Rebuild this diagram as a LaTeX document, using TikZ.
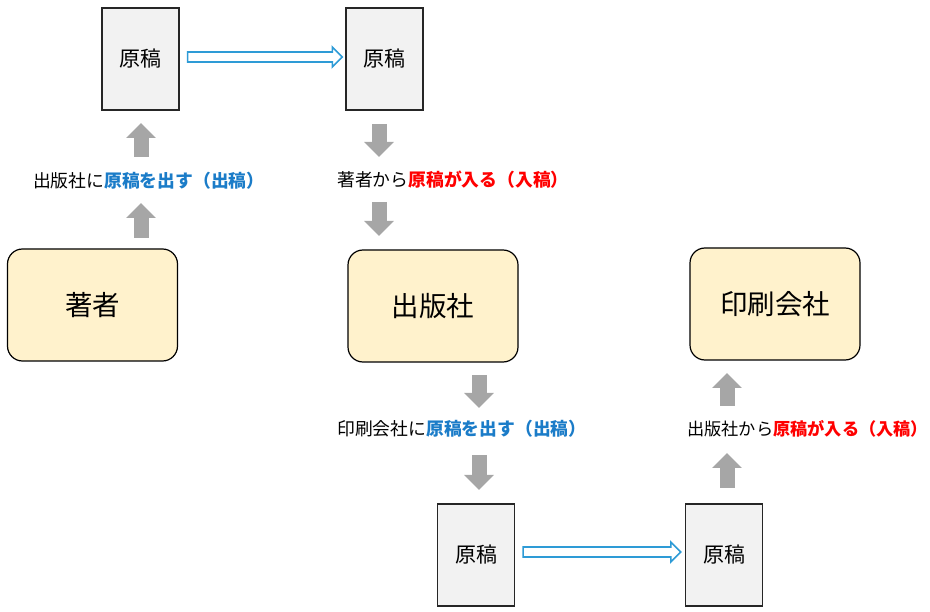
\documentclass[tikz,border=0pt]{standalone}
\usepackage{fontspec}
\setmainfont{Noto Sans CJK JP}
\usetikzlibrary{arrows.meta,calc}
\definecolor{docfill}{HTML}{F2F2F2}
\definecolor{boxfill}{HTML}{FFF2CC}
\definecolor{grayarr}{HTML}{A6A6A6}
\definecolor{bluearr}{HTML}{2E9BD6}
\definecolor{bluetxt}{HTML}{1B7CC8}
\definecolor{redtxt}{HTML}{FF0000}
\newcommand{\bluepart}[1]{{\bfseries\color{bluetxt}#1}}
\newcommand{\redpart}[1]{{\bfseries\color{redtxt}#1}}
\begin{document}
\begin{tikzpicture}[x=1pt,y=-1pt,
  docbox/.style={draw=black!85,line width=1.3pt,fill=docfill,minimum width=77pt,minimum height=102pt,inner sep=0pt,font=\fontsize{21}{24}\selectfont},
  mainbox/.style={draw=black,line width=1.2pt,fill=boxfill,rounded corners=15pt,minimum width=170pt,minimum height=112pt,inner sep=0pt,font=\fontsize{27.5}{32}\selectfont},
  lbl/.style={anchor=west,inner sep=0pt,font=\fontsize{17.8}{21}\selectfont},
  blockarrow/.style={line width=15pt,draw=grayarr,fill=grayarr,-{Triangle[width=29pt,length=15pt]}},
  hollow/.style={draw=bluearr,line width=1.6pt,fill=white,line join=miter}
]
\useasboundingbox (0,0) rectangle (930,612);

% document boxes
\node[docbox] (d1) at (140.5,59) {原稿};
\node[docbox] (d2) at (384.5,59) {原稿};
\node[docbox] (d3) at (476,555) {原稿};
\node[docbox] (d4) at (724,555) {原稿};

% main boxes
\node[mainbox] (author) at (92.5,305) {著者};
\node[mainbox] (pub) at (433,306) {出版社};
\node[mainbox] (print) at (775,304) {印刷会社};

% labels
\node[lbl] (l1) at (33,181) {出版社に\bluepart{原稿を出す（出稿）}};
\node[lbl] (l2) at (337,180) {著者から\redpart{原稿が入る（入稿）}};
\node[lbl] (l3) at (337,429) {印刷会社に\bluepart{原稿を出す（出稿）}};
\node[lbl,font=\fontsize{17.2}{21}\selectfont] (l4) at (687,429) {出版社から\redpart{原稿が入る（入稿）}};

% gray block arrows
\coordinate (a1s) at (141,157); \coordinate (a1e) at (141,123);
\coordinate (a2s) at (141,238); \coordinate (a2e) at (141,203);
\coordinate (b1s) at (379,124); \coordinate (b1e) at (379,157);
\coordinate (b2s) at (379,202); \coordinate (b2e) at (379,236);
\coordinate (c1s) at (479,375); \coordinate (c1e) at (479,408);
\coordinate (c2s) at (479,455); \coordinate (c2e) at (479,490);
\coordinate (e1s) at (727,406); \coordinate (e1e) at (727,373);
\coordinate (e2s) at (727,488); \coordinate (e2e) at (727,453);
\foreach \p in {a1,a2,b1,b2,c1,c2,e1,e2}{
  \draw[blockarrow] (\p s) -- (\p e);
}

% hollow blue arrows
\coordinate (h1s) at ($(d1.east)+(8,-2)$);
\coordinate (h1e) at ($(d2.west)+(-3,-2)$);
\draw[hollow] ($(h1s)+(0,-5)$) -- ($(h1e)+(-10,-5)$) -- ($(h1e)+(-10,-10)$) -- (h1e)
  -- ($(h1e)+(-10,10)$) -- ($(h1e)+(-10,5)$) -- ($(h1s)+(0,5)$) -- cycle;
\coordinate (h2s) at ($(d3.east)+(8,-3)$);
\coordinate (h2e) at ($(d4.west)+(-4,-3)$);
\draw[hollow] ($(h2s)+(0,-5)$) -- ($(h2e)+(-10,-5)$) -- ($(h2e)+(-10,-10)$) -- (h2e)
  -- ($(h2e)+(-10,10)$) -- ($(h2e)+(-10,5)$) -- ($(h2s)+(0,5)$) -- cycle;
\end{tikzpicture}
\end{document}
